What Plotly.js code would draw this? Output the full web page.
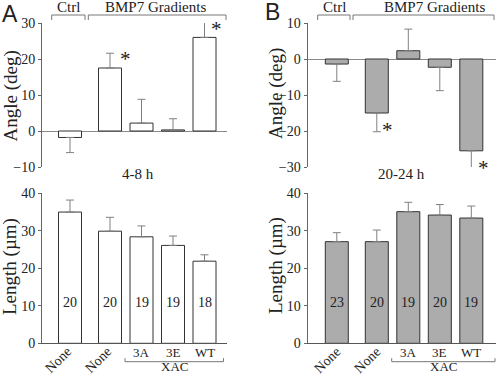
<!DOCTYPE html>
<html>
<head>
<meta charset="utf-8">
<script src="https://cdn.plot.ly/plotly-3.0.1.min.js"></script>
<style>html,body{margin:0;padding:0;background:#fff;}#chart{width:496px;height:375px;}</style>
</head>
<body>
<div id="chart"></div>
<script>
// ---- data ----
const groups = ["Ctrl", "BMP7 Gradients"];
const categories = ["None", "None", "3A", "3E", "WT"];
const xacLabel = "XAC";
const angleA = [-1.8, 17.5, 2.2, 0.3, 26.0];
const angleAErr = [4.2, 4.1, 6.6, 3.1, 6.0];
const angleB = [-1.4, -15.0, 2.3, -2.3, -25.5];
const angleBErr = [4.8, 5.2, 6.0, 6.5, 4.7];
const lengthA = [35.0, 29.9, 28.4, 26.1, 21.9];
const lengthAErr = [3.2, 3.7, 2.9, 2.5, 1.7];
const lengthB = [27.1, 27.1, 35.1, 34.2, 33.4];
const lengthBErr = [2.4, 3.1, 2.5, 2.8, 3.2];
const countsA = [20, 20, 19, 19, 18];
const countsB = [23, 20, 19, 20, 19];
const sigA = [1, 4]; // indices with asterisk
const sigB = [1, 4];
const timeA = "4-8 h";
const timeB = "20-24 h";

// ---- layout helpers ----
const W = 496, H = 375;
const px = x => x / W;
const py = y => 1 - y / H;
const xPos = [0, 1.27, 2.27, 3.27, 4.27];
const SERIF = "Liberation Serif, Times New Roman, serif";
const SANS = "Liberation Sans, Arial, sans-serif";
const TXT = "#222";

function errs(vals, e) {
  return {
    type: "data", symmetric: false,
    array: vals.map((v, i) => v >= 0 ? e[i] : 0),
    arrayminus: vals.map((v, i) => v < 0 ? e[i] : 0),
    color: "#808080", thickness: 1, width: 4
  };
}
function barTrace(vals, e, fill, xa, ya) {
  return {
    type: "bar", x: xPos, y: vals, xaxis: xa, yaxis: ya, width: 0.73,
    marker: {color: fill, line: {color: "#333", width: 1}},
    error_y: errs(vals, e), hoverinfo: "skip", showlegend: false
  };
}
const traces = [
  barTrace(angleA, angleAErr, "#ffffff", "x", "y"),
  barTrace(angleB, angleBErr, "#acacac", "x2", "y2"),
  barTrace(lengthA, lengthAErr, "#ffffff", "x3", "y3"),
  barTrace(lengthB, lengthBErr, "#acacac", "x4", "y4")
];

const domA = [px(42), px(227)], domB = [px(307.5), 1];
const domTop = [py(167), py(23)], domBot = [py(343.3), py(193.3)];
const rA = [-0.889, 4.984], rB = [-0.93, 5.054];

function xax(dom, rng, anchor, line) {
  return {domain: dom, range: rng, anchor: anchor, showgrid: false, zeroline: false,
    showticklabels: false, ticks: "", showline: line, linecolor: "#555", linewidth: 1, fixedrange: true};
}
function yax(dom, rng, anchor, zl) {
  return {domain: dom, range: rng, anchor: anchor, showgrid: false, dtick: 10,
    zeroline: zl, zerolinecolor: "#8a8a8a", zerolinewidth: 1,
    showline: true, linecolor: "#666", linewidth: 1, ticks: "outside", ticklen: 3,
    tickcolor: "#666", tickfont: {family: SERIF, size: 14, color: TXT}, fixedrange: true};
}

const annotations = [];
const shapes = [];
function ann(text, x, y, size, opts) {
  annotations.push(Object.assign({text: text, x: px(x), y: py(y), xref: "paper", yref: "paper",
    showarrow: false, xanchor: "center", yanchor: "middle",
    font: {family: SERIF, size: size, color: TXT}}, opts || {}));
}
// panel letters
ann("A", 10, 0, 23, {yanchor: "top", yshift: 1, font: {family: SANS, size: 23, color: TXT}});
ann("B", 272, 0, 23, {yanchor: "top", yshift: 3, font: {family: SANS, size: 23, color: TXT}});
// axis titles
ann("Angle (deg)", 10, 96.5, 19, {textangle: -90});
ann("Angle (deg)", 276, 94, 19, {textangle: -90});
ann("Length (µm)", 10, 267, 19, {textangle: -90});
ann("Length (µm)", 276, 266, 19, {textangle: -90});
// time labels
ann(timeA, 138, 174, 15);
ann(timeB, 401.7, 174, 15);

// group brackets on top
function bracketDown(x0, x1, y, h) {
  shapes.push({type: "path", xref: "paper", yref: "paper",
    path: `M ${px(x0)} ${py(y + h)} L ${px(x0)} ${py(y)} L ${px(x1)} ${py(y)} L ${px(x1)} ${py(y + h)}`,
    line: {color: "#777", width: 1}});
}
function bracketUp(x0, x1, y, h) {
  shapes.push({type: "path", xref: "paper", yref: "paper",
    path: `M ${px(x0)} ${py(y - h)} L ${px(x0)} ${py(y)} L ${px(x1)} ${py(y)} L ${px(x1)} ${py(y - h)}`,
    line: {color: "#777", width: 1}});
}
bracketDown(51.7, 85, 15, 5); bracketDown(88.3, 226, 15, 5);
bracketDown(317.7, 350, 15, 5); bracketDown(353, 494, 15, 5);
ann(groups[0], 68, 7, 15); ann(groups[1], 155, 7, 15);
ann(groups[0], 334, 7, 15); ann(groups[1], 434, 7, 15);

// asterisks
function star(xa, ya, i, y, dx) {
  annotations.push({text: "*", x: xPos[i], y: y, xref: xa, yref: ya, xshift: dx, yshift: -5,
    showarrow: false, xanchor: "center", yanchor: "middle",
    font: {family: SERIF, size: 21, color: TXT}});
}
star("x", "y", sigA[0], angleA[1] + angleAErr[1] - 0.2, 15);
star("x", "y", sigA[1], angleA[4] + angleAErr[4] - 2.3, 12);
star("x2", "y2", sigB[0], angleB[1] - angleBErr[1] + 1.9, 11);
star("x2", "y2", sigB[1], angleB[4] - angleBErr[4] + 1.4, 12.5);

// n counts inside bars
function counts(xa, ya, arr) {
  arr.forEach((n, i) => annotations.push({text: String(n), x: xPos[i], y: 11, xref: xa, yref: ya,
    showarrow: false, xanchor: "center", yanchor: "middle", font: {family: SERIF, size: 14, color: TXT}}));
}
counts("x3", "y3", countsA);
counts("x4", "y4", countsB);

// category labels
function catLabels(xa, dxNone) {
  categories.forEach((c, i) => {
    if (i < 2) {
      annotations.push({text: c, x: xPos[i], y: py(360), xref: xa, yref: "paper", xshift: dxNone,
        textangle: -45, showarrow: false, xanchor: "center", yanchor: "middle",
        font: {family: SERIF, size: 14, color: TXT}});
    } else {
      annotations.push({text: c, x: xPos[i], y: py(352), xref: xa, yref: "paper",
        showarrow: false, xanchor: "center", yanchor: "middle",
        font: {family: SERIF, size: 13, color: TXT}});
    }
  });
}
catLabels("x3", -12.5);
catLabels("x4", -10);
bracketUp(125, 223.5, 361.7, 3.5);
bracketUp(391.7, 495, 361.7, 3.5);
ann(xacLabel, 174, 375, 13, {yanchor: "bottom", yshift: -1});
ann(xacLabel, 443, 375, 13, {yanchor: "bottom", yshift: -1});

const layout = {
  width: W, height: H, margin: {l: 0, r: 0, t: 0, b: 0},
  paper_bgcolor: "#fff", plot_bgcolor: "rgba(0,0,0,0)",
  showlegend: false, bargap: 0,
  xaxis: xax(domA, rA, "y", false), yaxis: yax(domTop, [-10, 30], "x", true),
  xaxis2: xax(domB, rB, "y2", false), yaxis2: yax(domTop, [-30, 10], "x2", true),
  xaxis3: xax(domA, rA, "y3", true), yaxis3: yax(domBot, [0, 40], "x3", false),
  xaxis4: xax(domB, rB, "y4", true), yaxis4: yax(domBot, [0, 40], "x4", false),
  annotations: annotations, shapes: shapes
};
Plotly.newPlot("chart", traces, layout, {staticPlot: true, displayModeBar: false});
</script>
</body>
</html>
